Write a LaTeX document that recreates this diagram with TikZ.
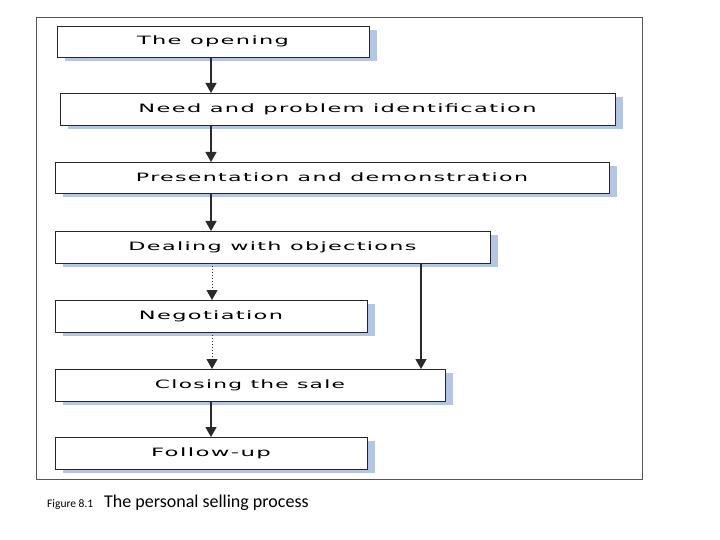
\documentclass[tikz,border=0pt]{standalone}
\usepackage{fontspec}
\usepackage{graphicx}
\usetikzlibrary{arrows.meta,shadows}
\newfontfamily\boxfont[LetterSpace=6]{DejaVu Sans}
\newfontfamily\capfont{Carlito}
\definecolor{shadowblue}{HTML}{B4C6E4}
\definecolor{framegray}{HTML}{555555}
\definecolor{arrowgray}{HTML}{2A2A2A}
\newcommand{\bt}[2]{\resizebox{#1pt}{\height}{\fontsize{11.5pt}{13pt}\boxfont #2}}
\tikzset{
  stepbox/.style={draw=black!85, line width=0.9pt, fill=white, minimum height=31pt,
    inner sep=0pt, outer sep=0pt, anchor=center,
    drop shadow={fill=shadowblue, opacity=1, shadow xshift=8pt, shadow yshift=-4pt}},
  arr/.style={draw=arrowgray, line width=1.3pt, -{Triangle[width=11pt,length=10pt]}},
  darr/.style={draw=arrowgray, line width=1pt, dotted, -{Triangle[width=11pt,length=10pt]}}
}
\begin{document}
\begin{tikzpicture}[x=1pt,y=-1pt]
\useasboundingbox (0,0) rectangle (720,540);
\fill[white] (0,0) rectangle (720,540);
\draw[framegray, line width=0.9pt] (36,17) rectangle (642,479);
\node[stepbox, minimum width=312pt] (o1) at (213,41.5) {\bt{152}{The opening}};
\node[stepbox, minimum width=555pt, minimum height=32pt] (o2) at (337.5,109) {\bt{398}{Need and problem identification}};
\node[stepbox, minimum width=554pt] (o3) at (332,177.5) {\bt{392}{Presentation and demonstration}};
\node[stepbox, minimum width=435pt, minimum height=32pt] (o4) at (272.5,247) {\bt{288}{Dealing with objections}};
\node[stepbox, minimum width=312pt, minimum height=32pt] (o5) at (211,316) {\bt{144}{Negotiation}};
\node[stepbox, minimum width=390pt, minimum height=32pt] (o6) at (250,385) {\bt{190}{Closing the sale}};
\node[stepbox, minimum width=312pt, minimum height=32pt] (o7) at (211,453) {\bt{120}{Follow-up}};
\coordinate (ax) at (211,0);
\coordinate (bx) at (212,0);
\coordinate (rx) at (421,0);
\draw[arr] (o1.south -| ax) -- (o2.north -| ax);
\draw[arr] (o2.south -| ax) -- (o3.north -| ax);
\draw[arr] (o3.south -| ax) -- (o4.north -| ax);
\draw[darr] (o4.south -| bx) -- (o5.north -| bx);
\draw[darr] (o5.south -| bx) -- (o6.north -| bx);
\draw[arr] (o4.south -| rx) -- (o6.north -| rx);
\draw[arr] (o6.south -| ax) -- (o7.north -| ax);
\node[anchor=base west, inner sep=0pt, font=\fontsize{11.5pt}{13pt}\capfont] (cap1) at (47,507) {Figure 8.1};
\node[anchor=base west, inner sep=0pt, font=\fontsize{18pt}{21pt}\capfont] (cap2) at (104,507) {The personal selling process};
\end{tikzpicture}
\end{document}
